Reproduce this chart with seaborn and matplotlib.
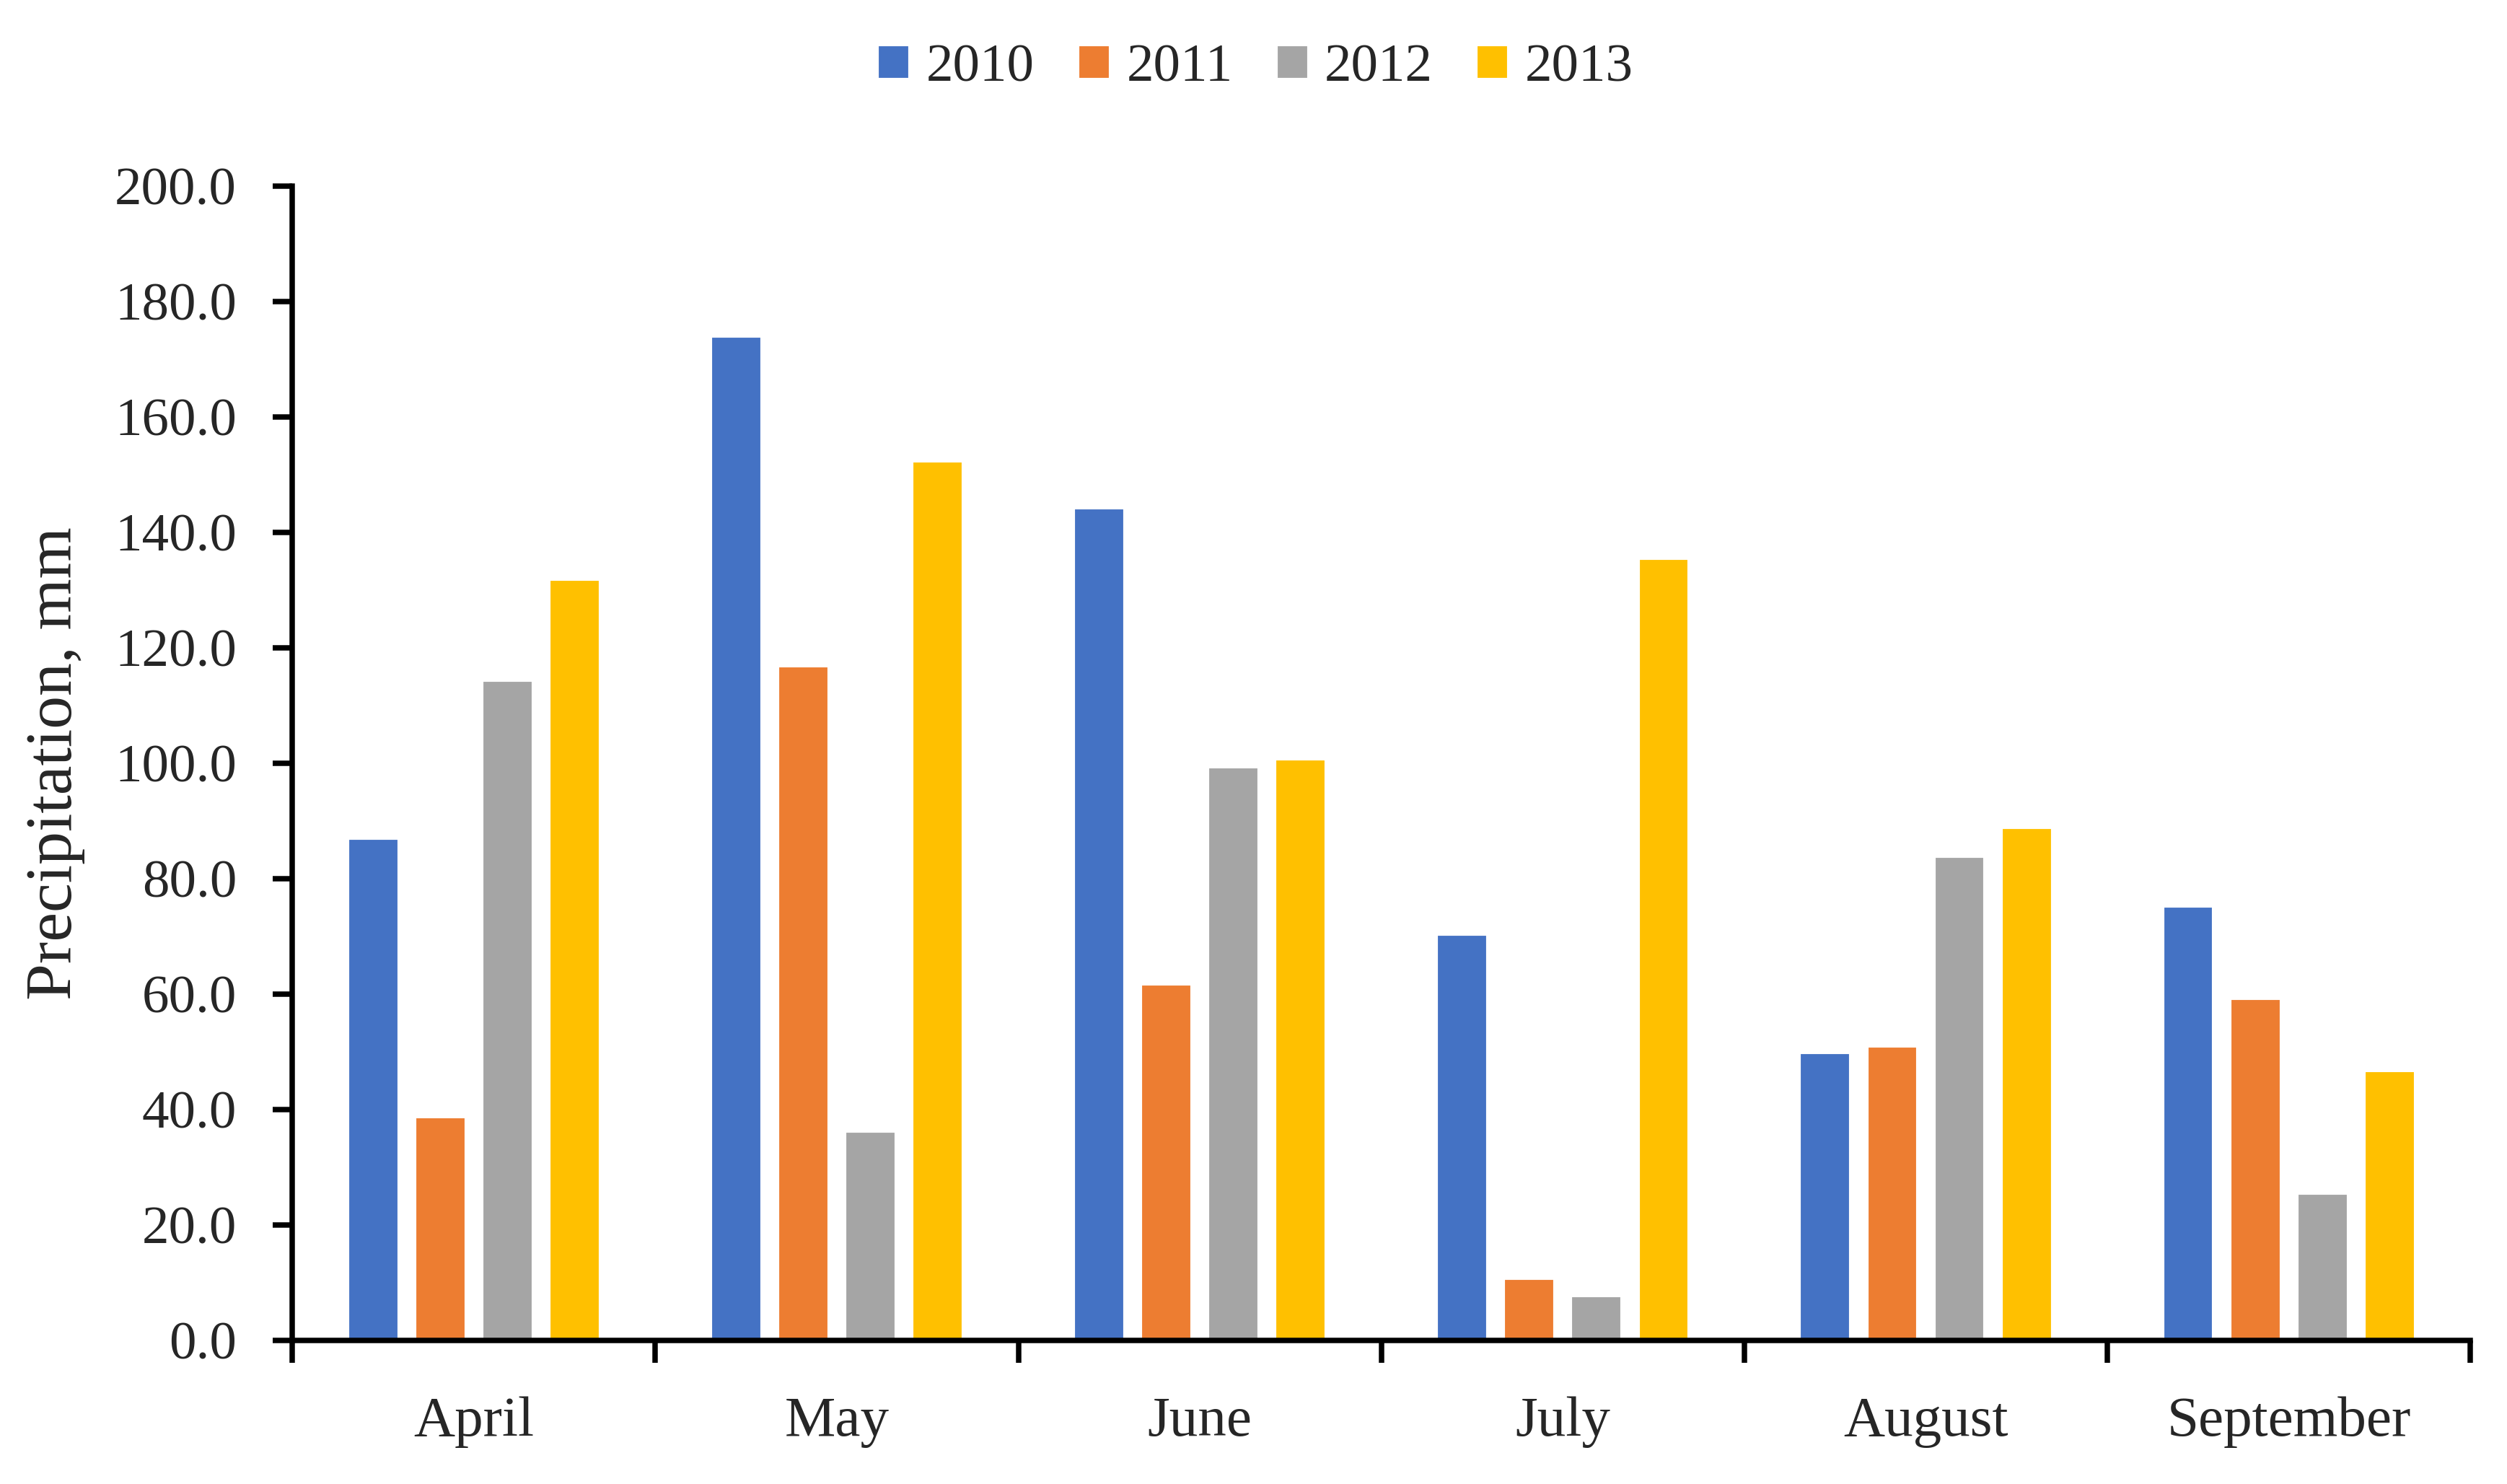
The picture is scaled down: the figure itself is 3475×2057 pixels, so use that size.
import pandas as pd
import seaborn as sns
import matplotlib.pyplot as plt
from matplotlib.ticker import FixedLocator, FormatStrFormatter

# monthly precipitation, mm
months = ['April', 'May', 'June', 'July', 'August', 'September']
years = ['2010', '2011', '2012', '2013']
p2010 = [87.0, 174.0, 144.3, 70.4, 49.9, 75.3]
p2011 = [38.8, 116.9, 61.8, 10.8, 51.0, 59.3]
p2012 = [114.4, 36.3, 99.4, 7.8, 83.9, 25.5]
p2013 = [131.9, 152.4, 100.8, 135.5, 88.9, 46.8]
colors = ['#4472C4', '#ED7D31', '#A5A5A5', '#FFC000']

df = pd.DataFrame({'Month': months, '2010': p2010, '2011': p2011,
                   '2012': p2012, '2013': p2013})
long = df.melt(id_vars='Month', var_name='Year', value_name='Precipitation')

sns.set_style('white')
plt.rcParams['font.family'] = ['Liberation Serif', 'DejaVu Serif']

fig = plt.figure(figsize=(3475 / 300, 2057 / 300), dpi=300)
ax = fig.add_axes([0.1166, 0.0967, 0.8688, 0.7778])

sns.barplot(data=long, x='Month', y='Precipitation', hue='Year',
            hue_order=years, order=months, palette=colors,
            width=0.74, gap=0.24, saturation=1, ax=ax, legend=True)

ax.set_ylim(0, 200)
ax.set_xlim(-0.5, len(months) - 0.5)
ax.set_yticks(range(0, 201, 20))
ax.yaxis.set_major_formatter(FormatStrFormatter('%.1f'))

# category boundaries get the ticks, the names sit in between
ax.xaxis.set_major_locator(FixedLocator([i - 0.5 for i in range(len(months) + 1)]))
ax.xaxis.set_minor_locator(FixedLocator(list(range(len(months)))))
ax.set_xticklabels([], minor=False)
ax.set_xticklabels(months, minor=True)
ax.tick_params(axis='x', which='major', direction='out', length=7.5, width=1.8,
               color='black', bottom=True)
ax.tick_params(axis='x', which='minor', length=0, pad=18.5, labelsize=19)
ax.tick_params(axis='y', direction='out', length=6.5, width=1.8, color='black',
               left=True, pad=12, labelsize=18)

for side in ['top', 'right']:
    ax.spines[side].set_visible(False)
for side in ['left', 'bottom']:
    ax.spines[side].set_linewidth(1.8)
    ax.spines[side].set_color('black')

ax.set_xlabel('')
ax.set_ylabel('Precipitation, mm', fontsize=22, labelpad=10)

handles, labels = ax.get_legend_handles_labels()
ax.legend_.remove()
fig.legend(handles, labels, loc='center', bbox_to_anchor=(0.5007, 0.954),
           ncol=4, frameon=False, fontsize=18, handlelength=0.6,
           handleheight=0.6, handletextpad=0.3, columnspacing=0.8)

plt.savefig('out.png', dpi=300)
